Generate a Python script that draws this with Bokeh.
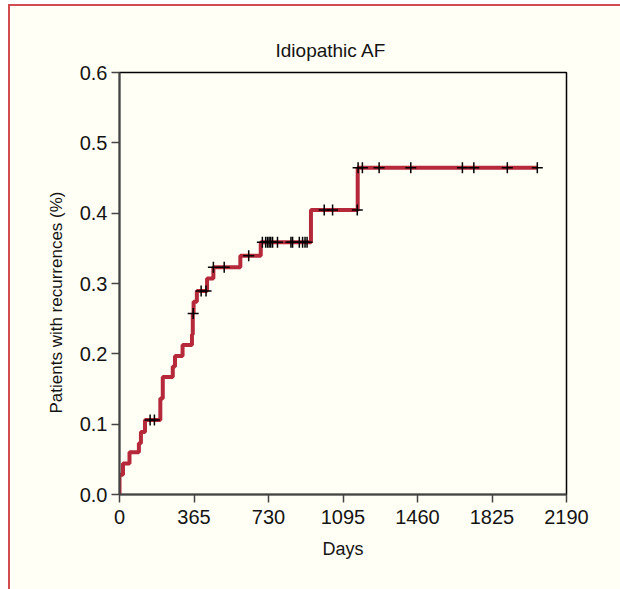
import numpy as np
from bokeh.plotting import figure
from bokeh.models import FixedTicker, NumeralTickFormatter, Title
from bokeh.embed import file_html
from bokeh.resources import INLINE

# ---- data ----
event_days = [0, 17, 49, 95, 105, 125, 200, 212, 261, 272, 309, 355, 359, 363, 379,
              429, 460, 592, 692, 938, 1167]
event_values = [0.028, 0.044, 0.060, 0.073, 0.089, 0.106, 0.1365, 0.167, 0.182, 0.197,
                0.2125, 0.2276, 0.2575, 0.274, 0.2895, 0.307, 0.323, 0.3395, 0.3585,
                0.4045, 0.4647]
censor_days = [150, 171, 361, 400, 424, 460, 513, 633,
               700, 716, 725, 733, 741, 750, 774, 840, 848, 881, 897, 909, 919,
               1003, 1044, 1165,
               1169, 1190, 1272, 1427, 1680, 1736, 1900, 2047]
x_ticks = [0, 365, 730, 1095, 1460, 1825, 2190]
y_ticks = [0.0, 0.1, 0.2, 0.3, 0.4, 0.5, 0.6]

title_text = "Idiopathic AF"
x_label = "Days"
y_label = "Patients with recurrences (%)"

FONT = "Liberation Sans"
BG = "#fffff5"
TXT = "#141414"

# step line: start at 0 with value 0, end at last follow-up
step_x = [0] + event_days + [censor_days[-1]]
step_y = [0.0] + event_values + [event_values[-1]]

ev = np.array(event_days)
vals = np.array(event_values)
cx = np.array(censor_days)
idx = np.searchsorted(ev, cx, side="right") - 1
cy = np.where(idx >= 0, vals[np.clip(idx, 0, None)], 0.0)

p = figure(frame_width=447, frame_height=422, output_backend="svg", toolbar_location=None,
           x_range=(0, 2190), y_range=(0, 0.6),
           min_border_left=109, min_border_right=54, min_border_top=66, min_border_bottom=95)
p.styles = {"margin-left": "8px", "margin-top": "4px",
            "border-left": "2px solid #d24b50", "border-top": "2px solid #d24b50"}
p.background_fill_color = BG
p.border_fill_color = BG
p.outline_line_color = "black"
p.outline_line_width = 1.5
p.grid.visible = False

p.title.text = title_text
p.title.text_font = FONT
p.title.text_font_size = "19px"
p.title.text_font_style = "normal"
p.title.text_color = TXT
p.title.align = "left"
p.title.offset = 156
p.title.standoff = 23

for ax in (p.xaxis[0], p.yaxis[0]):
    ax.axis_line_color = "#444444"
    ax.axis_line_width = 2
    ax.major_tick_line_color = "#444444"
    ax.major_tick_line_width = 1.5
    ax.major_tick_out = 8
    ax.major_tick_in = 0
    ax.minor_tick_line_color = None
    ax.major_label_text_font = FONT
    ax.major_label_text_font_size = "20px"
    ax.major_label_text_color = TXT
    ax.axis_label_text_font = FONT
    ax.axis_label_text_font_size = "18px"
    ax.axis_label_text_font_style = "normal"
    ax.axis_label_text_color = TXT

p.xaxis.ticker = FixedTicker(ticks=x_ticks)
p.yaxis.ticker = FixedTicker(ticks=y_ticks)
p.yaxis.formatter = NumeralTickFormatter(format="0.0")
p.xaxis.axis_label = x_label
p.xaxis.major_label_standoff = 7
p.xaxis.axis_label_standoff = 12
p.yaxis.major_label_standoff = 4

ytitle = Title(text=y_label, align="left", offset=81, standoff=21,
               text_font=FONT, text_font_size="17px", text_font_style="normal",
               text_color=TXT)
p.add_layout(ytitle, "left")

p.step(step_x, step_y, mode="after", line_color="#b5293b", line_width=4)
p.scatter(cx, cy, marker="cross", size=11, line_color="black", line_width=1.5)

open("out.html", "w").write(file_html(p, INLINE))
